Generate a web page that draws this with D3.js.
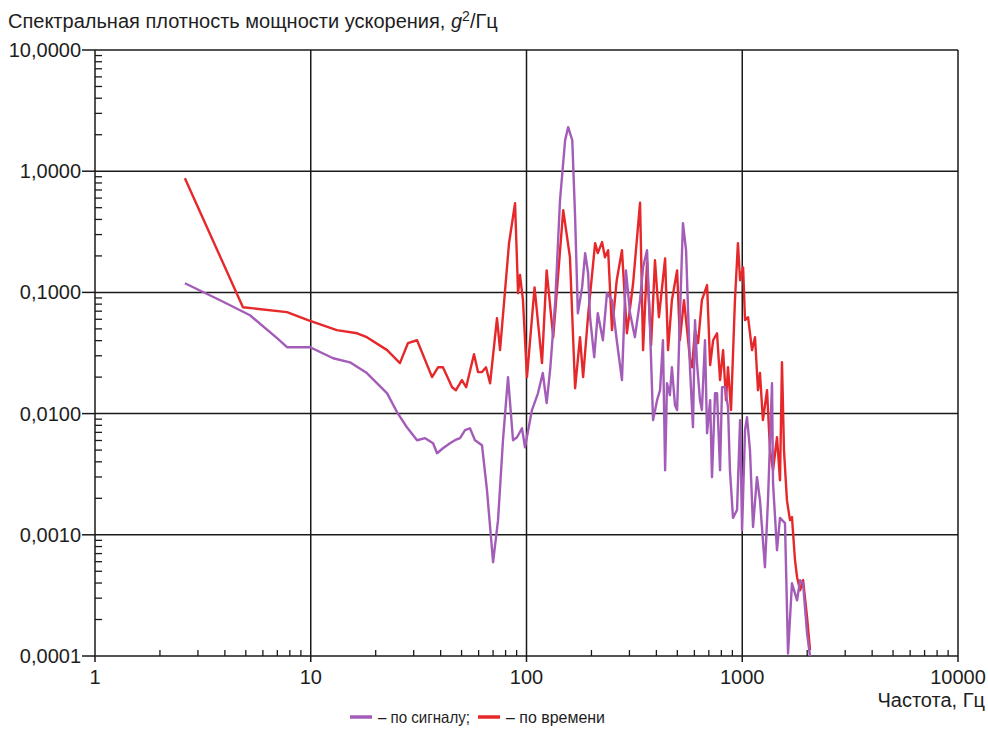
<!DOCTYPE html>
<html><head><meta charset="utf-8">
<script src="https://cdn.jsdelivr.net/npm/d3@7"></script>
<style>
html,body{margin:0;padding:0;background:#fff;}
svg{display:block;font-family:"Liberation Sans",Arial,sans-serif;}
</style></head>
<body>
<svg id="chart" width="988" height="741"></svg>
<script>
// ---- data ----
const title = "Спектральная плотность мощности ускорения, ";
const xAxisTitle = "Частота, Гц";
const xTicks = [1, 10, 100, 1000, 10000];
const xTickLabels = ["1", "10", "100", "1000", "10000"];
const yTicks = [10, 1, 0.1, 0.01, 0.001, 0.0001];
const yTickLabels = ["10,0000", "1,0000", "0,1000", "0,0100", "0,0010", "0,0001"];
const seriesNames = ["– по сигналу;", "– по времени"];

// "по времени" (red)
const timeFreq = [2.61,4.85,7.76,9.71,13.2,16.4,18.2,22.6,25.9,28.2,31.1,36.5,38.9,41.0,45.2,47.1,50.2,52.5,57.1,59.6,62.2,64.9,67.8,73.0,75.4,83.0,88.5,91.4,93.3,96.3,100.5,109,118,124,133,148,159,168,177,183,193,208,214,224,231,239,249,262,277,292,312,336,347,362,378,394,411,439,453,472,499,514,537,555,573,585,604,624,650,687,710,733,764,789,815,841,859,887,925,955,977,1009,1030,1064,1110,1146,1183,1208,1247,1303,1345,1389,1449,1496,1528,1561,1611,1664,1700,1756,1795,1854,1914,1997,2061];
const timeVal = [0.875,0.0755,0.0687,0.059,0.0488,0.046,0.0427,0.0334,0.0261,0.0381,0.0403,0.020,0.0241,0.0241,0.0165,0.0156,0.0189,0.0165,0.0309,0.022,0.022,0.0241,0.0178,0.0612,0.0334,0.255,0.544,0.0985,0.139,0.0862,0.020,0.110,0.0261,0.152,0.0427,0.477,0.195,0.0162,0.0427,0.020,0.0648,0.255,0.211,0.260,0.195,0.223,0.0488,0.126,0.223,0.046,0.119,0.55,0.0334,0.177,0.0367,0.184,0.0624,0.191,0.0334,0.0862,0.152,0.0403,0.0862,0.0488,0.0276,0.0241,0.0488,0.0381,0.0862,0.115,0.0251,0.0403,0.046,0.0189,0.0334,0.0129,0.0241,0.0107,0.0862,0.255,0.126,0.161,0.059,0.0624,0.0334,0.0427,0.0156,0.0216,0.00883,0.0156,0.00499,0.00341,0.00638,0.00282,0.0265,0.005,0.00193,0.00132,0.0014,0.000617,0.000447,0.000349,0.000422,0.000209,0.000112];

// "по сигналу" (purple)
const sigFreq = [2.61,3.80,5.23,6.98,7.76,9.93,12.7,15.2,18.2,22.6,25.1,27.9,31.1,33.9,36.9,38.5,41.0,44.2,46.6,49.2,51.9,54.7,57.7,62.2,65.6,70.0,73.8,77.8,82.1,86.6,90.4,95.3,98.4,106,113,119,124,129,136,143,151,156,163,168,173,181,187,193,197,206,214,226,236,249,262,277,289,302,318,336,347,362,374,386,403,416,429,439,448,462,472,488,499,514,531,549,573,591,604,617,637,650,672,687,710,724,748,764,789,806,832,859,877,906,946,977,998,1030,1052,1086,1122,1170,1208,1274,1316,1374,1389,1449,1496,1578,1630,1700,1795,1854,1914,1997,2061];
const sigVal = [0.119,0.0862,0.0648,0.0419,0.0353,0.0353,0.0286,0.0265,0.0216,0.0147,0.0103,0.00772,0.00603,0.00627,0.0057,0.00471,0.00518,0.0057,0.00603,0.00627,0.0073,0.00757,0.00603,0.00548,0.00233,0.000594,0.00132,0.00603,0.020,0.00603,0.00638,0.00757,0.00528,0.0107,0.0147,0.0216,0.0122,0.0241,0.0862,0.576,1.80,2.31,1.80,0.417,0.0673,0.110,0.211,0.144,0.0624,0.0292,0.0673,0.0403,0.0985,0.0862,0.0403,0.0189,0.152,0.0673,0.0427,0.0862,0.161,0.223,0.0488,0.00883,0.0129,0.0156,0.0403,0.00341,0.0178,0.0142,0.0241,0.0117,0.0107,0.0624,0.372,0.223,0.0228,0.00772,0.059,0.0261,0.0129,0.0107,0.0403,0.00689,0.0129,0.00299,0.0147,0.0147,0.00341,0.0165,0.0165,0.0113,0.00341,0.00138,0.0016,0.00883,0.00109,0.0073,0.00934,0.00499,0.00116,0.00299,0.00193,0.00054,0.00193,0.0178,0.00267,0.000746,0.00138,0.00125,0.000105,0.000398,0.000288,0.000422,0.000398,0.000154,0.0001];

// ---- drawing ----
const svg = d3.select("#chart");
const L = 95, R = 958, T = 50, B = 656;
const x = d3.scaleLog().domain([1, 10000]).range([L, R]);
const y = d3.scaleLog().domain([0.0001, 10]).range([B, T]);
const gridColor = "#1a1a1a";
const textColor = "#1e1e1e";
const fontFam = '"Liberation Sans", Arial, sans-serif';

// title
const tt = svg.append("text").attr("x", 8).attr("y", 28)
  .attr("font-size", 20).attr("fill", textColor).attr("font-family", fontFam);
tt.append("tspan").text(title);
tt.append("tspan").attr("font-style", "italic").text("g");
tt.append("tspan").attr("font-size", 14).attr("dy", -7).text("2");
tt.append("tspan").attr("dy", 7).text("/Гц");

// major grid
const g = svg.append("g");
xTicks.forEach(t => {
  g.append("line").attr("x1", x(t)).attr("x2", x(t)).attr("y1", T).attr("y2", B)
    .attr("stroke", gridColor).attr("stroke-width", 1.5);
});
yTicks.forEach(t => {
  g.append("line").attr("x1", L).attr("x2", R).attr("y1", y(t)).attr("y2", y(t))
    .attr("stroke", gridColor).attr("stroke-width", 1.5);
});

// minor ticks
const minorX = [];
for (let d = 1; d < 10000; d *= 10) for (let k = 2; k <= 9; k++) minorX.push(d * k);
minorX.forEach(v => {
  g.append("line").attr("x1", x(v)).attr("x2", x(v)).attr("y1", B).attr("y2", B - 6)
    .attr("stroke", gridColor).attr("stroke-width", 1.3);
});
const minorY = [];
for (let d = 0.0001; d < 10 - 1e-9; d *= 10) for (let k = 2; k <= 9; k++) minorY.push(d * k);
minorY.forEach(v => {
  g.append("line").attr("x1", L).attr("x2", L + 7).attr("y1", y(v)).attr("y2", y(v))
    .attr("stroke", gridColor).attr("stroke-width", 1.3);
});
// major tick stubs outside
yTicks.forEach(t => {
  g.append("line").attr("x1", L - 13).attr("x2", L).attr("y1", y(t)).attr("y2", y(t))
    .attr("stroke", gridColor).attr("stroke-width", 1.5);
});
xTicks.forEach(t => {
  g.append("line").attr("x1", x(t)).attr("x2", x(t)).attr("y1", B).attr("y2", B + 6)
    .attr("stroke", gridColor).attr("stroke-width", 1.5);
});

// tick labels
yTicks.forEach((t, i) => {
  svg.append("text").attr("x", L - 14).attr("y", y(t) + 7).attr("text-anchor", "end")
    .attr("font-size", 20).attr("fill", textColor).attr("font-family", fontFam).text(yTickLabels[i]);
});
xTicks.forEach((t, i) => {
  svg.append("text").attr("x", x(t)).attr("y", B + 28).attr("text-anchor", "middle")
    .attr("font-size", 20).attr("fill", textColor).attr("font-family", fontFam).text(xTickLabels[i]);
});
svg.append("text").attr("x", 985).attr("y", 707).attr("text-anchor", "end")
  .attr("font-size", 20).attr("fill", textColor).attr("font-family", fontFam).text(xAxisTitle);

// series
const line = d3.line().x(d => x(d[0])).y(d => y(Math.max(d[1], 0.0001)));
const redColor = "#e6282b", purpleColor = "#a35cb7";
const timeData = timeFreq.map((f, i) => [f, timeVal[i]]);
const sigData = sigFreq.map((f, i) => [f, sigVal[i]]);
svg.append("path").datum(timeData).attr("d", line).attr("fill", "none")
  .attr("stroke", redColor).attr("stroke-width", 2.4).attr("stroke-linejoin", "round");
svg.append("path").datum(sigData).attr("d", line).attr("fill", "none")
  .attr("stroke", purpleColor).attr("stroke-width", 2.4).attr("stroke-linejoin", "round");

// legend
const ly = 723;
svg.append("line").attr("x1", 350).attr("x2", 372).attr("y1", ly - 6).attr("y2", ly - 6)
  .attr("stroke", purpleColor).attr("stroke-width", 3.5);
svg.append("text").attr("x", 378).attr("y", ly).attr("font-size", 16.5).attr("fill", textColor)
  .attr("font-family", fontFam).attr("textLength", 92).attr("lengthAdjust", "spacingAndGlyphs")
  .text(seriesNames[0]);
svg.append("line").attr("x1", 478).attr("x2", 500).attr("y1", ly - 6).attr("y2", ly - 6)
  .attr("stroke", redColor).attr("stroke-width", 3.5);
svg.append("text").attr("x", 506).attr("y", ly).attr("font-size", 16.5).attr("fill", textColor)
  .attr("font-family", fontFam).attr("textLength", 99).attr("lengthAdjust", "spacingAndGlyphs")
  .text(seriesNames[1]);
</script>
</body></html>
